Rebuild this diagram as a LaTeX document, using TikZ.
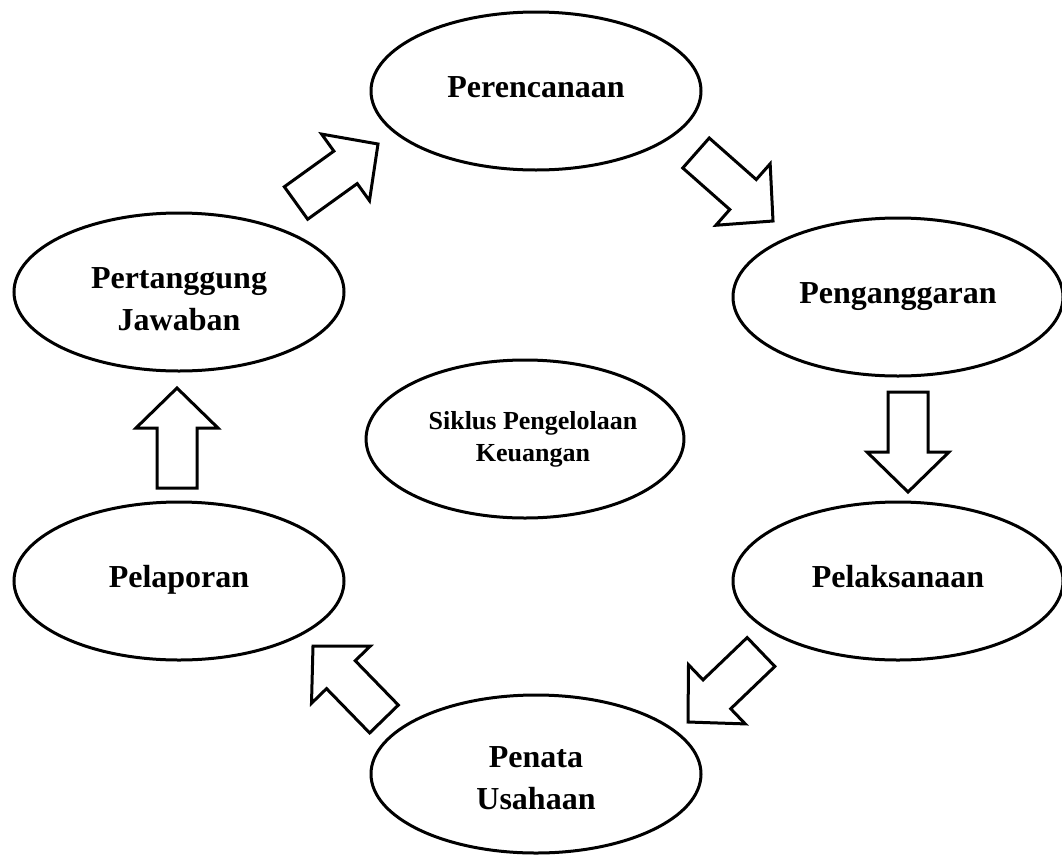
\documentclass[tikz,border=0pt]{standalone}
\usepackage{fontspec}
\setmainfont{Liberation Serif}
\usetikzlibrary{shapes.geometric,calc}
\tikzset{
  stage/.style={draw, ellipse, line width=3pt, minimum width=330pt, minimum height=158pt,
    inner sep=0pt, align=center, font=\fontsize{32}{42}\selectfont\bfseries},
  onestage/.style={stage, text height=22pt, text depth=10pt},
  centerstage/.style={stage, minimum width=314pt, font=\fontsize{26}{32}\selectfont\bfseries},
  blockarr/.style={draw, line width=3pt, line join=miter, fill=white}
}
\newcommand\blockarrow[2]{%
  \coordinate (#1-#2-n) at ($(#2)!40pt!(#1)$);
  \draw[blockarr] ($(#1)!20pt!90:(#2)$) -- ($(#1-#2-n)!20pt!90:(#2)$) -- ($(#1-#2-n)!41pt!90:(#2)$)
    -- (#2) -- ($(#1-#2-n)!41pt!-90:(#2)$) -- ($(#1-#2-n)!20pt!-90:(#2)$) -- ($(#1)!20pt!-90:(#2)$) -- cycle;}
\begin{document}
\begin{tikzpicture}[x=1pt,y=-1pt]
\useasboundingbox (0,0) rectangle (1062,854);
\node[onestage] (per) at (536,91) {Perencanaan};
\node[onestage] (ang) at (898,297) {Penganggaran};
\node[onestage] (lak) at (898,581) {Pelaksanaan};
\node[stage] (tu) at (536,774) {\rule{0pt}{30pt}Penata\\Usahaan};
\node[onestage] (lap) at (179,581) {Pelaporan};
\node[stage] (pj) at (179,292) {\rule{0pt}{36pt}Pertanggung\\Jawaban};
\node[centerstage] (sik) at (525,439) {\hspace*{16pt}Siklus Pengelolaan\\\hspace*{16pt}Keuangan};
% arrow ends
\coordinate (a1s) at (296,203); \coordinate (a1t) at (378,144);
\coordinate (a2s) at (696,153); \coordinate (a2t) at (773,221);
\coordinate (a3s) at (908,392); \coordinate (a3t) at (908,492);
\coordinate (a4s) at (761,652); \coordinate (a4t) at (688,722);
\coordinate (a5s) at (384,719); \coordinate (a5t) at (313,646);
\coordinate (a6s) at (177,488); \coordinate (a6t) at (177,388);
\blockarrow{a1s}{a1t}
\blockarrow{a2s}{a2t}
\blockarrow{a3s}{a3t}
\blockarrow{a4s}{a4t}
\blockarrow{a5s}{a5t}
\blockarrow{a6s}{a6t}
\end{tikzpicture}
\end{document}
